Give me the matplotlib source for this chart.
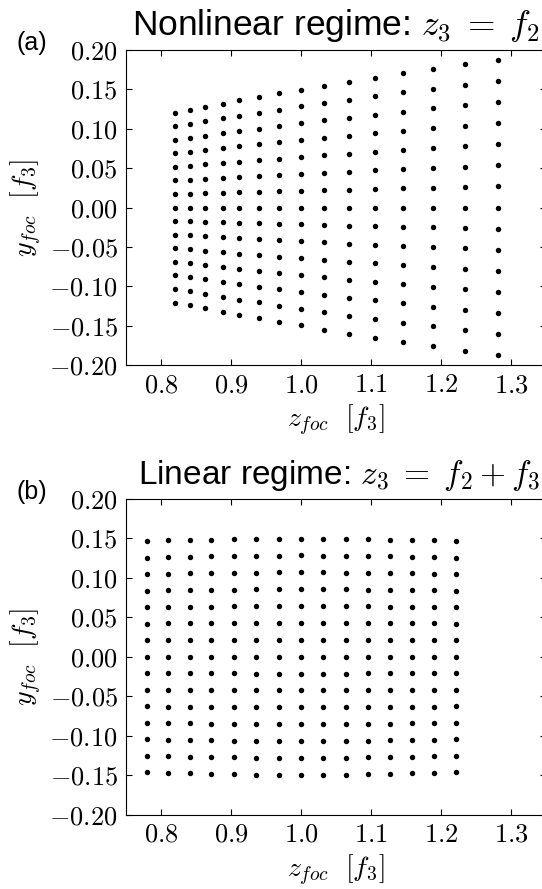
import numpy as np
import matplotlib
matplotlib.use("Agg")
import matplotlib.pyplot as plt
from matplotlib.ticker import FuncFormatter

plt.rcParams['mathtext.fontset'] = 'cm'
plt.rcParams['font.family'] = ['Liberation Sans', 'DejaVu Sans']

# (a) nonlinear regime: column positions and half-heights of each column
z_a = [0.820, 0.841, 0.863, 0.888, 0.912, 0.940, 0.969, 1.000,
       1.033, 1.069, 1.106, 1.146, 1.189, 1.234, 1.282]
ymax_a = [0.1206, 0.1240, 0.1278, 0.1321, 0.1363, 0.1405, 0.1452, 0.1498,
          0.1549, 0.1600, 0.1651, 0.1706, 0.1761, 0.1820, 0.1879]

# (b) linear regime
z_b = [0.780, 0.810, 0.841, 0.872, 0.904, 0.936, 0.968, 1.000,
       1.032, 1.064, 1.096, 1.127, 1.159, 1.190, 1.221]
ymax_b = [0.1464, 0.1475, 0.1480, 0.1484, 0.1489, 0.1493, 0.1496, 0.1497,
          0.1496, 0.1493, 0.1489, 0.1484, 0.1480, 0.1475, 0.1464]

# relative row levels (15 rows per column)
row_levels = [-1.0, -6/7, -5/7, -4/7, -3/7, -2/7, -1/7, 0.0,
              1/7, 2/7, 3/7, 4/7, 5/7, 6/7, 1.0]

panels = [
    ("(a)", r"Nonlinear regime: $z_3\;=\;f_2$", 25.5, z_a, ymax_a,
     [0.2325, 0.5894, 0.775, 0.3543]),
    ("(b)", r"Linear regime: $z_3\;=\;f_2+f_3$", 24, z_b, ymax_b,
     [0.2325, 0.0838, 0.775, 0.3550]),
]


def fmt_y(v, pos):
    if abs(v) < 1e-9:
        v = 0.0
    return r"$%.2f$" % v


def fmt_x(v, pos):
    return r"$%.1f$" % v


fig = plt.figure(figsize=(5.42, 8.89), dpi=100)

for tag, title, tsize, zs, ymaxs, pos in panels:
    ax = fig.add_axes(pos)
    for z, ym in zip(zs, ymaxs):
        ys = [ym * r for r in row_levels]
        ax.plot([z] * len(ys), ys, 'o', color='k', ms=3.9, mec='none')
    ax.set_xlim(0.75, 1.35)
    ax.set_ylim(-0.20, 0.20)
    ax.set_xticks([0.8, 0.9, 1.0, 1.1, 1.2, 1.3])
    ax.set_yticks(np.arange(-0.20, 0.201, 0.05))
    ax.xaxis.set_major_formatter(FuncFormatter(fmt_x))
    ax.yaxis.set_major_formatter(FuncFormatter(fmt_y))
    ax.tick_params(direction='in', top=True, right=True, length=4,
                   labelsize=19, pad=6)
    ax.set_xlabel(r"$z_{foc}\ \ [f_3]$", fontsize=20, labelpad=4)
    ax.set_ylabel(r"$y_{foc}\ \ [f_3]$", fontsize=20, labelpad=4)
    # title ends just before the right edge of the figure
    ax.annotate(title, xy=(0.986, 1.0), xycoords='axes fraction',
                xytext=(0, 11), textcoords='offset points',
                ha='right', va='baseline', fontsize=tsize)
    top = pos[1] + pos[3]
    fig.text(0.03, top + 0.008, tag, fontsize=18, va='center', ha='left')

fig.savefig("out.png", dpi=100)
